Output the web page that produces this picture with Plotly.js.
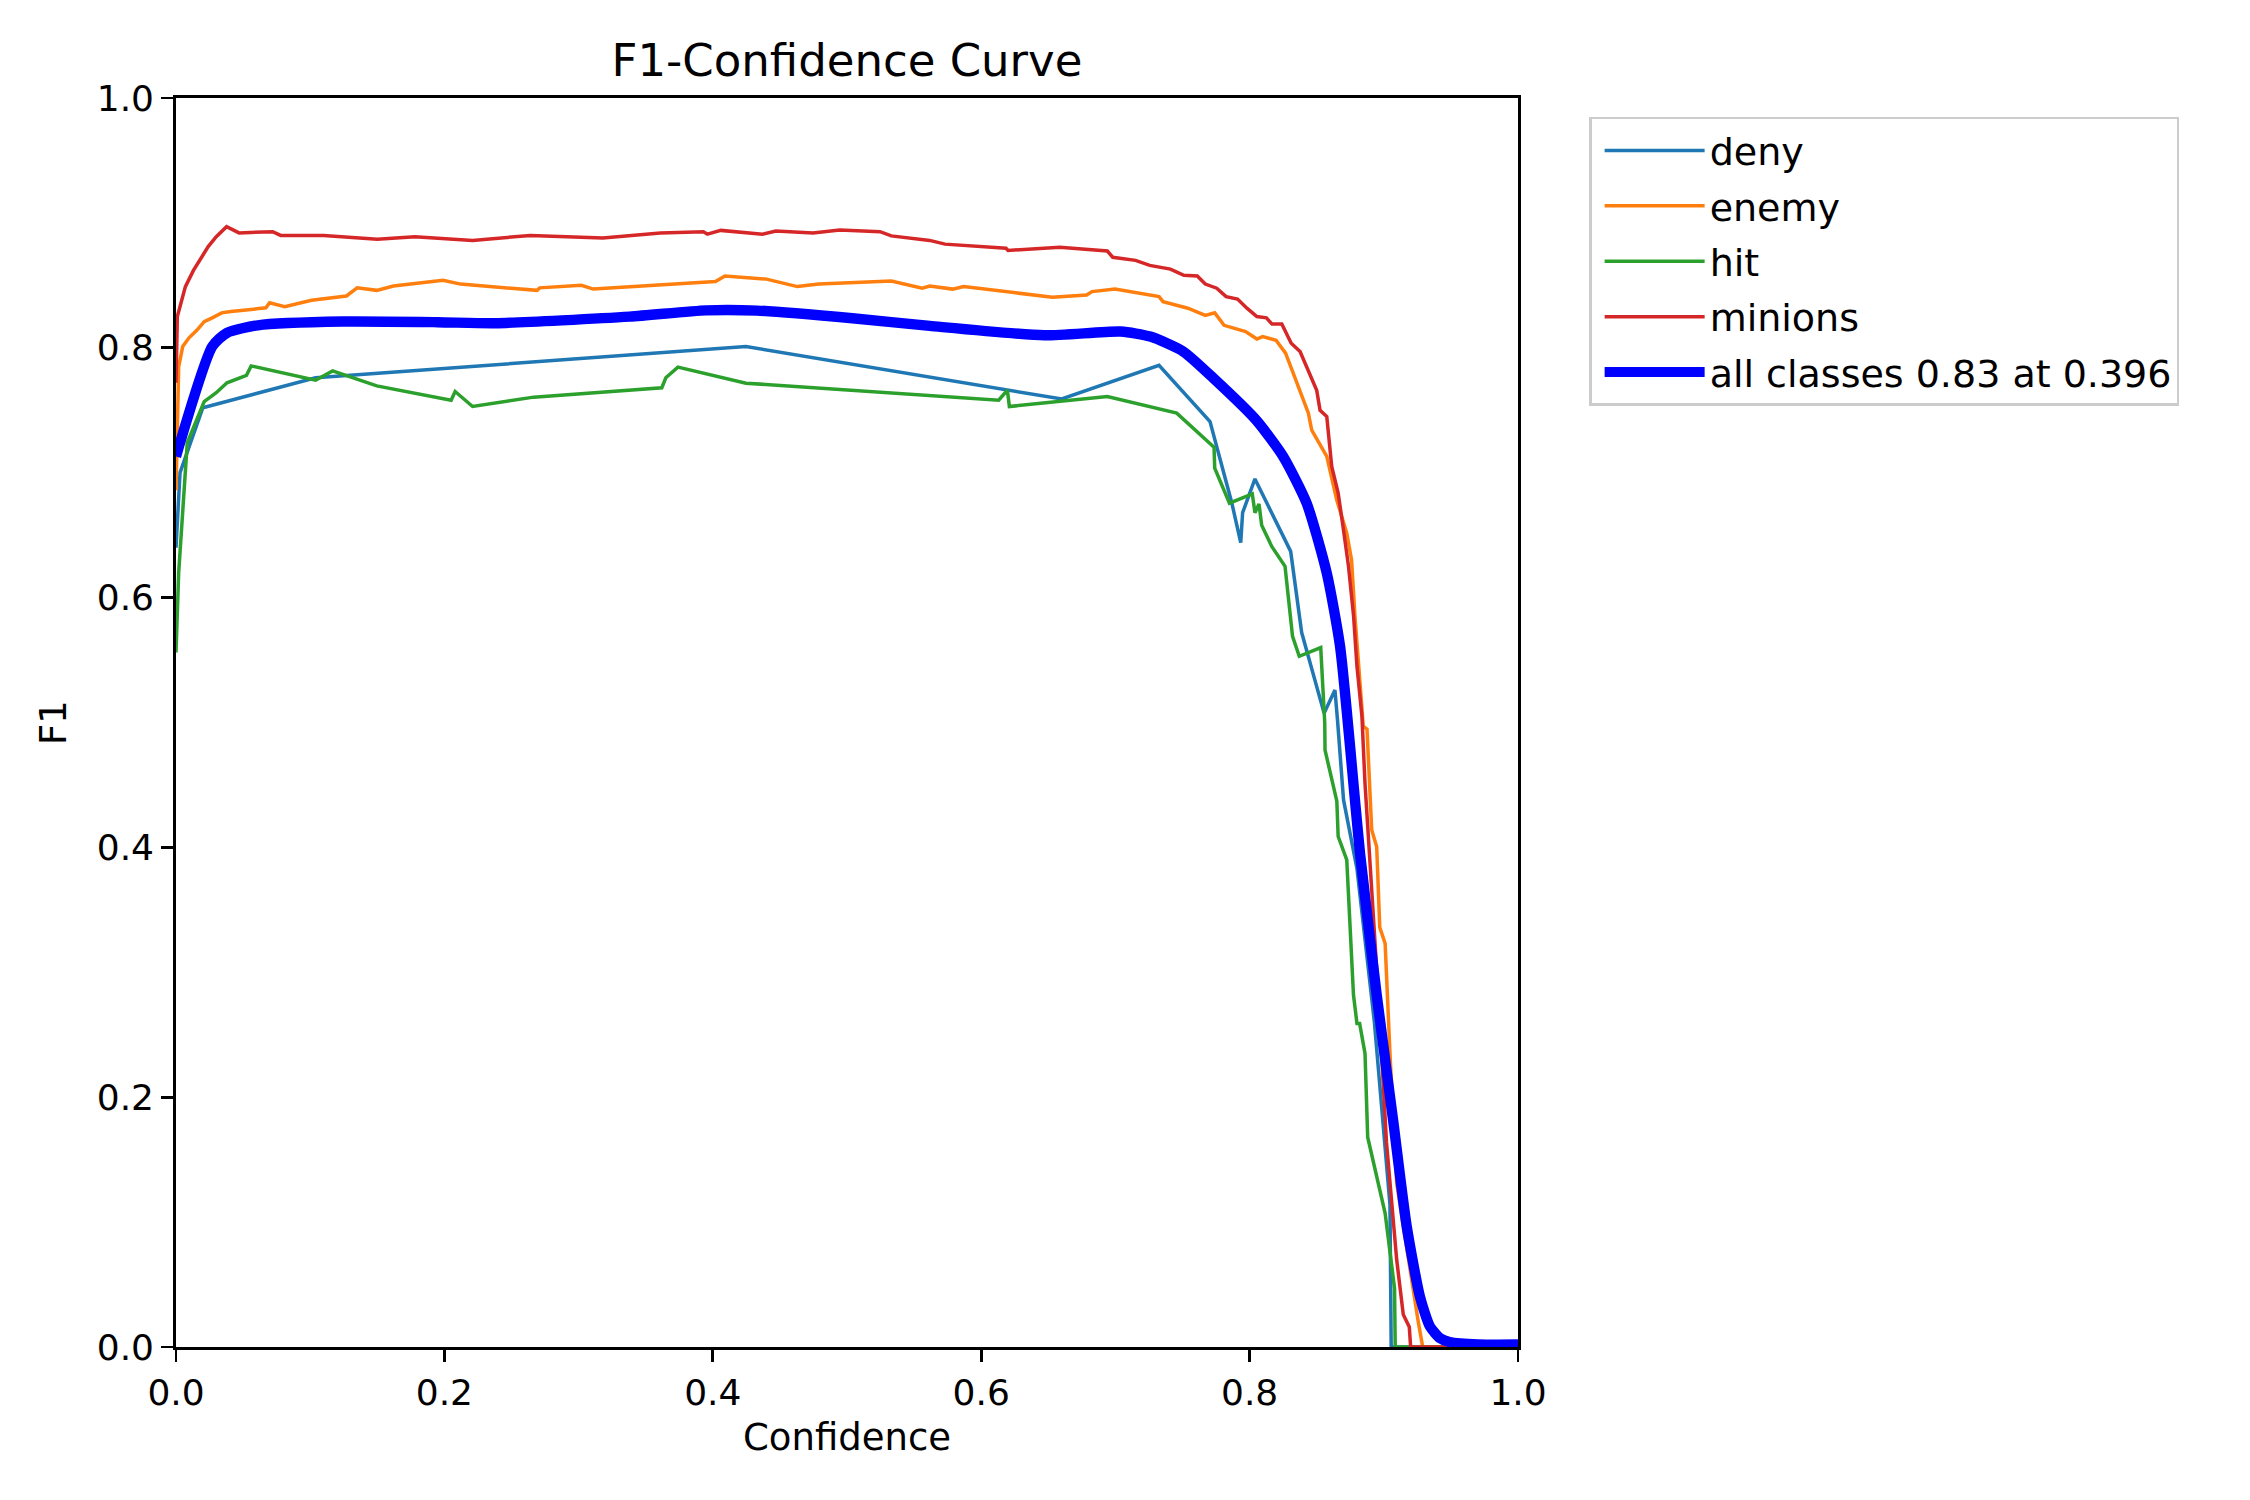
<!DOCTYPE html>
<html>
<head>
<meta charset="utf-8">
<script src="https://cdn.plot.ly/plotly-3.0.1.min.js"></script>
<style>html,body{margin:0;padding:0;background:#fff;}</style>
</head>
<body>
<div id="chart" style="width:2250px;height:1500px;"></div>
<script>
// deny
const denyX = [0, 0.003, 0.02, 0.104, 0.4247, 0.66, 0.7325, 0.7705, 0.7867, 0.7934, 0.7948, 0.804, 0.8306, 0.8388, 0.8555, 0.8636, 0.8655, 0.870, 0.880, 0.893, 0.9046, 0.9055, 1.0];
const denyY = [0.64, 0.70, 0.752, 0.776, 0.801, 0.759, 0.786, 0.741, 0.676, 0.644, 0.668, 0.695, 0.637, 0.572, 0.5075, 0.526, 0.502, 0.438, 0.383, 0.26, 0.114, 0, 0];
// enemy
const enemyX = [0, 0.002, 0.005, 0.0097, 0.0155, 0.021, 0.027, 0.034, 0.041, 0.067, 0.0697, 0.081, 0.101, 0.127, 0.135, 0.1496, 0.162, 0.199, 0.212, 0.269, 0.271, 0.302, 0.311, 0.402, 0.409, 0.440, 0.463, 0.479, 0.533, 0.556, 0.5616, 0.5787, 0.587, 0.653, 0.6785, 0.6826, 0.6997, 0.7325, 0.7355, 0.754, 0.767, 0.774, 0.781, 0.797, 0.8054, 0.8097, 0.8197, 0.8268, 0.831, 0.8376, 0.8438, 0.8463, 0.8575, 0.865, 0.8724, 0.876, 0.8785, 0.8847, 0.8875, 0.891, 0.8947, 0.897, 0.901, 0.9046, 0.9096, 0.9257, 0.929, 1.0];
const enemyY = [0.686, 0.785, 0.801, 0.808, 0.814, 0.821, 0.824, 0.828, 0.829, 0.832, 0.836, 0.833, 0.838, 0.8415, 0.848, 0.846, 0.8495, 0.854, 0.851, 0.846, 0.848, 0.850, 0.847, 0.853, 0.8575, 0.855, 0.849, 0.851, 0.8535, 0.8477, 0.8495, 0.847, 0.849, 0.8405, 0.8423, 0.845, 0.847, 0.841, 0.837, 0.8317, 0.826, 0.828, 0.818, 0.813, 0.807, 0.809, 0.806, 0.7957, 0.784, 0.766, 0.7477, 0.734, 0.713, 0.678, 0.6516, 0.630, 0.585, 0.497, 0.4946, 0.414, 0.4005, 0.336, 0.323, 0.235, 0.131, 0.020, 0, 0];
// hit
const hitX = [0, 0.002, 0.0084, 0.021, 0.030, 0.038, 0.0525, 0.056, 0.104, 0.1167, 0.1496, 0.205, 0.208, 0.221, 0.2665, 0.362, 0.365, 0.374, 0.4247, 0.613, 0.6195, 0.621, 0.694, 0.7457, 0.7735, 0.774, 0.785, 0.802, 0.804, 0.807, 0.809, 0.8165, 0.8264, 0.832, 0.837, 0.853, 0.856, 0.8562, 0.865, 0.866, 0.8724, 0.8774, 0.880, 0.882, 0.886, 0.888, 0.901, 0.908, 0.9085, 1.0];
const hitY = [0.556, 0.62, 0.724, 0.757, 0.764, 0.772, 0.778, 0.7855, 0.774, 0.7815, 0.7695, 0.758, 0.765, 0.753, 0.7605, 0.768, 0.776, 0.7845, 0.7717, 0.758, 0.766, 0.753, 0.761, 0.7477, 0.7204, 0.7036, 0.6756, 0.683, 0.668, 0.675, 0.658, 0.641, 0.625, 0.569, 0.553, 0.560, 0.4996, 0.478, 0.437, 0.4087, 0.390, 0.282, 0.259, 0.259, 0.235, 0.168, 0.107, 0.047, 0, 0];
// minions
const minionsX = [0, 0.001, 0.007, 0.013, 0.024, 0.030, 0.0377, 0.047, 0.072, 0.078, 0.110, 0.150, 0.178, 0.221, 0.264, 0.318, 0.361, 0.393, 0.396, 0.406, 0.437, 0.447, 0.4747, 0.4946, 0.5246, 0.533, 0.5616, 0.573, 0.6185, 0.62, 0.6585, 0.694, 0.698, 0.715, 0.7256, 0.741, 0.751, 0.761, 0.767, 0.7755, 0.7825, 0.791, 0.798, 0.8054, 0.8125, 0.8167, 0.824, 0.831, 0.8376, 0.8438, 0.850, 0.8525, 0.8575, 0.8612, 0.866, 0.870, 0.8737, 0.8775, 0.880, 0.8837, 0.886, 0.889, 0.892, 0.8959, 0.902, 0.9096, 0.9145, 0.919, 0.920, 1.0];
const minionsY = [0.772, 0.825, 0.849, 0.862, 0.881, 0.889, 0.897, 0.892, 0.893, 0.890, 0.890, 0.887, 0.889, 0.886, 0.890, 0.888, 0.892, 0.893, 0.891, 0.894, 0.891, 0.8935, 0.892, 0.8943, 0.893, 0.8896, 0.886, 0.883, 0.8797, 0.878, 0.8805, 0.8775, 0.8725, 0.870, 0.866, 0.863, 0.858, 0.8575, 0.851, 0.8477, 0.841, 0.839, 0.8317, 0.825, 0.824, 0.819, 0.819, 0.8037, 0.797, 0.781, 0.766, 0.750, 0.745, 0.705, 0.6836, 0.654, 0.625, 0.585, 0.545, 0.505, 0.451, 0.400, 0.350, 0.282, 0.164, 0.070, 0.026, 0.016, 0, 0];
// all classes (mean)
const allX = [0, 0.027, 0.038, 0.061, 0.124, 0.195, 0.238, 0.338, 0.395, 0.433, 0.504, 0.5616, 0.647, 0.704, 0.726, 0.7506, 0.773, 0.805, 0.825, 0.8425, 0.8575, 0.8674, 0.8785, 0.8823, 0.8947, 0.907, 0.917, 0.927, 0.9344, 0.942, 0.949, 0.97, 1.0];
const allY = [0.713, 0.801, 0.812, 0.818, 0.821, 0.8205, 0.8197, 0.825, 0.830, 0.8298, 0.8237, 0.8175, 0.810, 0.813, 0.809, 0.797, 0.7757, 0.742, 0.713, 0.6756, 0.6196, 0.561, 0.438, 0.395, 0.282, 0.181, 0.097, 0.040, 0.0164, 0.007, 0.004, 0.002, 0.002];

const names = ['deny', 'enemy', 'hit', 'minions', 'all classes 0.83 at 0.396'];
const colors = ['#1f77b4', '#ff7f0e', '#2ca02c', '#d62728', '#0000ff'];
const xs = [denyX, enemyX, hitX, minionsX, allX];
const ys = [denyY, enemyY, hitY, minionsY, allY];
const widths = [3.5, 3.5, 3.5, 3.5, 10.4];

const traces = names.map((n, i) => ({
  type: 'scatter', mode: 'lines', name: n, x: xs[i], y: ys[i],
  legendgroup: 'g' + i,
  line: i === 4 ? {color: colors[i], width: widths[i], shape: 'spline', smoothing: 0.6} : {color: colors[i], width: widths[i]}
}));

const font = {family: 'DejaVu Sans, sans-serif', color: '#000'};
const axisCommon = {
  range: [0, 1], dtick: 0.2, tick0: 0, tickformat: '.1f',
  ticks: 'outside', ticklen: 12, tickwidth: 2.8, tickcolor: '#000',
  showline: true, mirror: true, linecolor: '#000', linewidth: 2.8,
  showgrid: false, zeroline: false, fixedrange: true,
  tickfont: Object.assign({size: 36}, font)
};

const layout = {
  width: 2250, height: 1500,
  paper_bgcolor: '#fff', plot_bgcolor: '#fff',
  margin: {l: 176, r: 732, t: 98, b: 153, pad: 0},
  font: font,
  title: {text: 'F1-Confidence Curve', font: Object.assign({size: 45}, font), x: 0.5, xref: 'paper', xanchor: 'center', y: 0.96, yref: 'container', yanchor: 'middle'},
  xaxis: Object.assign({}, axisCommon, {title: {text: 'Confidence', font: Object.assign({size: 37}, font), standoff: 12}}),
  yaxis: Object.assign({}, axisCommon, {title: {text: 'F1', font: Object.assign({size: 37}, font), standoff: 19}}),
  legend: {x: 1.053, y: 0.985, xanchor: 'left', yanchor: 'top', bgcolor: '#fff', bordercolor: '#cccccc', borderwidth: 2.5, font: Object.assign({size: 38}, font), tracegroupgap: 3, itemwidth: 100, indentation: 8},
  showlegend: true
};

Plotly.newPlot('chart', traces, layout, {displayModeBar: false, staticPlot: true});
</script>
</body>
</html>
